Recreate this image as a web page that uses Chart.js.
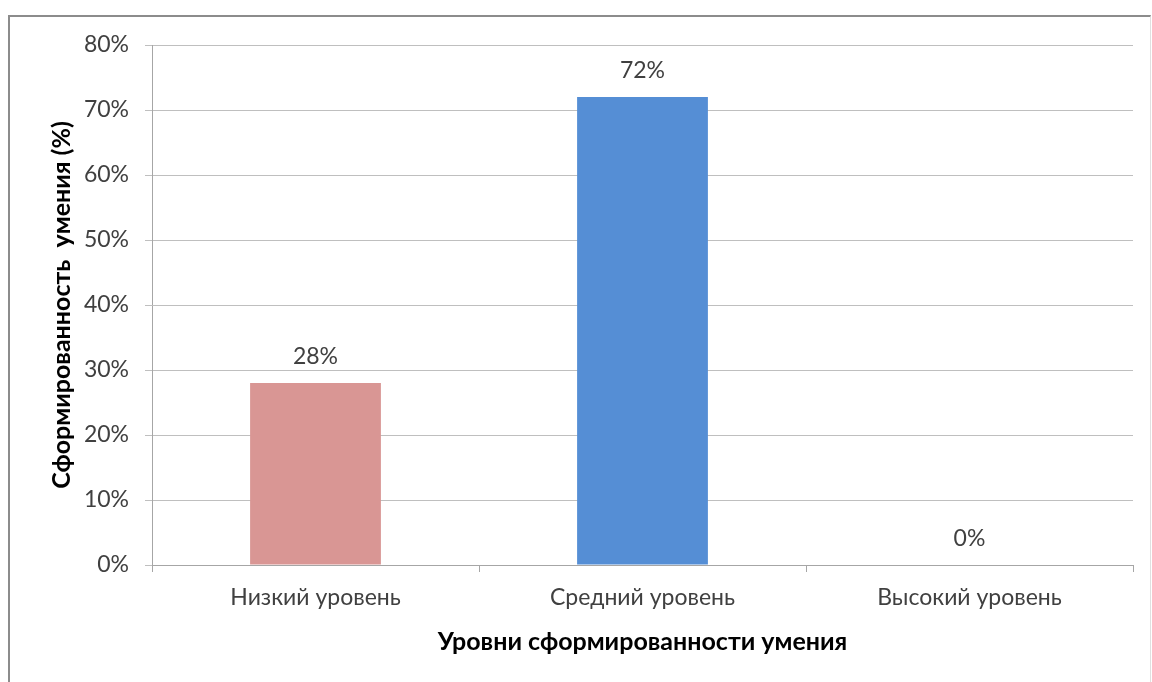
<!DOCTYPE html>
<html>
<head>
<meta charset="utf-8">
<script src="https://cdn.jsdelivr.net/npm/chart.js@4/dist/chart.umd.min.js"></script>
<style>
  html, body { margin: 0; padding: 0; background: #fff; }
  #frame { position: absolute; left: 8px; top: 15px; width: 1140px; height: 700px;
    border-top: 2px solid #8c8c8c; border-left: 2px solid #8c8c8c; border-right: 1px solid #e0e0e0; }
  #wrap { position: absolute; left: 0; top: 0; width: 1152px; height: 682px; }
</style>
</head>
<body>
<div id="frame"></div>
<div id="wrap"><canvas id="chart" width="1152" height="682"></canvas></div>
<script>
  const categories = ["Низкий уровень", "Средний уровень", "Высокий уровень"];
  const values = [28, 72, 0];
  const barColors = ["#d99694", "#558ed5", "#4f81bd"];
  const yTitle = "Сформированность  умения (%)";
  const xTitle = "Уровни сформированности умения";

  const FONT = "Lato, 'Open Sans', sans-serif";

  // value labels above the bars
  const valueLabels = {
    id: "valueLabels",
    afterDatasetsDraw(chart) {
      const ctx = chart.ctx;
      const meta = chart.getDatasetMeta(0);
      ctx.save();
      ctx.font = "23px " + FONT;
      ctx.fillStyle = "#404040";
      ctx.textAlign = "center";
      ctx.textBaseline = "middle";
      meta.data.forEach((bar, i) => {
        ctx.fillText(values[i] + "%", bar.x, bar.y - 26);
      });
      ctx.restore();
    }
  };

  new Chart(document.getElementById("chart").getContext("2d"), {
    type: "bar",
    data: {
      labels: categories,
      datasets: [{ data: values, backgroundColor: barColors, categoryPercentage: 1, barPercentage: 0.4 }]
    },
    options: {
      responsive: false,
      animation: false,
      layout: { padding: { left: 0, top: 45, right: 19, bottom: 0 } },
      plugins: { legend: { display: false }, tooltip: { enabled: false } },
      scales: {
        x: {
          afterFit: (s) => { s.height = 117; },
          grid: { offset: true, drawOnChartArea: false, color: "#a6a6a6", tickLength: 7 },
          border: { color: "#a6a6a6" },
          ticks: { color: "#404040", font: { family: FONT, size: 23 }, padding: 12 },
          title: { display: true, text: xTitle, color: "#000", font: { family: FONT, size: 25, weight: "bold" }, padding: { top: 0, bottom: 25 } }
        },
        y: {
          min: 0, max: 80,
          afterFit: (s) => { s.width = 152; },
          grid: { color: "#bfbfbf", tickLength: 7 },
          border: { color: "#a6a6a6" },
          ticks: { stepSize: 10, color: "#404040", font: { family: FONT, size: 23 }, padding: 16, callback: (v) => v + "%" },
          title: { display: true, text: yTitle, color: "#000", font: { family: FONT, size: 25, weight: "bold" }, padding: { top: 47, bottom: 0 } }
        }
      }
    },
    plugins: [valueLabels]
  });
</script>
</body>
</html>
